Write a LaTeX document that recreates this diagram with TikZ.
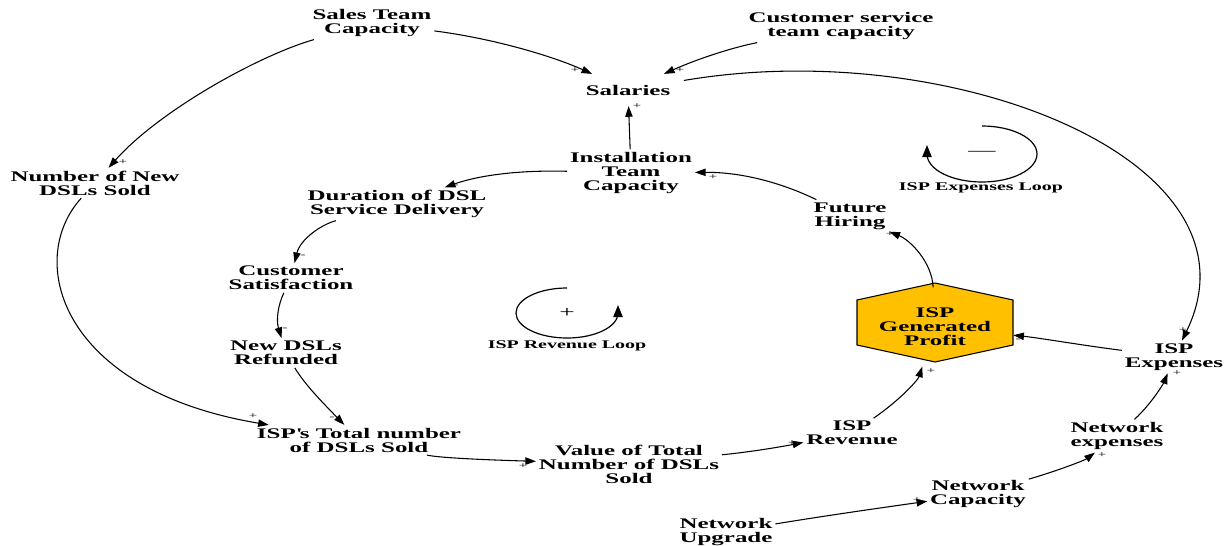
\documentclass[tikz,border=0pt]{standalone}
\usepackage{fontspec}
\setmainfont{Liberation Serif}[FakeStretch=1.7]
\usetikzlibrary{arrows.meta}

\definecolor{profitfill}{RGB}{255,192,0}

\tikzset{
  var/.style={font=\fontsize{11}{10.5}\selectfont\bfseries, align=center, inner sep=2pt},
  looplbl/.style={font=\fontsize{8.8}{9}\selectfont\bfseries, inner sep=1pt},
  pol/.style={font=\fontsize{6.5}{6.5}\selectfont, inner sep=0pt},
  loopsign/.style={font=\fontsize{12}{12}\selectfont, inner sep=0pt},
  link/.style={-{Triangle[length=8pt,width=5.5pt]}, line width=0.8pt},
  loopline/.style={-{Triangle[length=9pt,width=7pt]}, line width=0.9pt},
}

\begin{document}
\begin{tikzpicture}[x=0.75pt,y=0.75pt,yscale=-1,xscale=1]
        \useasboundingbox (0,0) rectangle (1228,546);

        %Shape: Hexagon
        \draw [fill=profitfill, line width=0.8pt] (935,283) -- (1013,300) -- (1013,345) -- (935,362) -- (857,345) -- (857,300) -- cycle ;

        % Text Node
        \node [var] (sales) at (372,23) {Sales Team\\Capacity};
        % Text Node
        \node [var] (custsvc) at (841,26) {Customer service\\team capacity};
        % Text Node
        \node [var, inner xsep=10pt, inner ysep=8pt] (salaries) at (628,90) {Salaries};
        % Text Node
        \node [var] (install) at (631,173) {Installation\\Team\\Capacity};
        % Text Node
        \node [var] (newdsl) at (95,183) {Number of New\\DSLs Sold};
        % Text Node
        \node [var] (duration) at (397,204) {Duration of DSL\\Service Delivery};
        % Text Node
        \node [var] (custsat) at (291,278) {Customer\\Satisfaction};
        % Text Node
        \node [var] (refund) at (286,353) {New DSLs\\Refunded};
        % Text Node
        \node [var] (isptotal) at (359,440) {ISP\textquotesingle s Total number\\of DSLs Sold};
        % Text Node
        \node [var] (value) at (629,464) {Value of Total\\Number of DSLs\\Sold};
        % Text Node
        \node [var] (isprev) at (852,433) {ISP\\Revenue};
        % Text Node
        \node [var, minimum width=117pt, minimum height=59pt, inner sep=0pt] (profit) at (935,327) {ISP\\Generated\\Profit};
        % Text Node
        \node [var] (future) at (850,216) {Future\\Hiring};
        % Text Node
        \node [var] (ispexp) at (1174,357) {ISP\\Expenses};
        % Text Node
        \node [var] (netexp) at (1117,436) {Network\\expenses};
        % Text Node
        \node [var] (netcap) at (978,494) {Network\\Capacity};
        % Text Node
        \node [var] (netupg) at (726,532) {Network\\Upgrade};

        %Curve Lines
        \draw [link] (sales) .. controls (490,38) and (550,55) .. (salaries);
        \draw [link] (custsvc) .. controls (730,48) and (695,60) .. (salaries);
        \draw [link] (salaries) .. controls (950,35) and (1270,160) .. (ispexp);
        \draw [link] (install) -- (salaries);
        \draw [link] (sales) .. controls (260,55) and (160,110) .. (newdsl);
        \draw [link] (newdsl) .. controls (25,260) and (60,390) .. (isptotal);
        \draw [link] (install) .. controls (520,170) and (480,175) .. (duration);
        \draw [link] (duration) .. controls (320,225) and (300,240) .. (custsat);
        \draw [link] (custsat) .. controls (278,305) and (276,320) .. (refund);
        \draw [link] (refund) .. controls (305,385) and (325,405) .. (isptotal);
        \draw [link] (isptotal) .. controls (440,458) and (490,460) .. (value);
        \draw [link] (value) .. controls (750,452) and (780,447) .. (isprev);
        \draw [link] (isprev) .. controls (900,400) and (918,380) .. (profit);
        \draw [link] (profit) .. controls (932,262) and (910,240) .. (future);
        \draw [link] (future) .. controls (780,182) and (740,172) .. (install);
        \draw [link] (ispexp) .. controls (1080,345) and (1040,338) .. (profit);
        \draw [link] (netexp) .. controls (1155,400) and (1165,380) .. (ispexp);
        \draw [link] (netcap) .. controls (1060,470) and (1085,460) .. (netexp);
        \draw [link] (netupg) .. controls (830,515) and (880,508) .. (netcap);

        % Polarity
        \node [pol] (p1) at (575,70) {+};
        \node [pol] (p2) at (680,70) {+};
        \node [pol] (p3) at (1183,330) {+};
        \node [pol] (p4) at (637,106) {+};
        \node [pol] (p5) at (123,162) {+};
        \node [pol] (p6) at (253,416) {+};
        \node [pol] (p7) at (456,186) {-};
        \node [pol] (p8) at (303,256) {-};
        \node [pol] (p9) at (285,329) {-};
        \node [pol] (p10) at (332,418) {-};
        \node [pol] (p11) at (523,466) {+};
        \node [pol] (p12) at (792,443) {+};
        \node [pol] (p13) at (931,371) {+};
        \node [pol] (p14) at (890,234) {+};
        \node [pol] (p15) at (713,177) {+};
        \node [pol] (p16) at (1018,340) {-};
        \node [pol] (p17) at (1177,373) {+};
        \node [pol] (p18) at (1102,455) {+};
        \node [pol] (p19) at (917,500) {+};

        %Loops
        \draw [loopline] (567,288) arc [start angle=-90, end angle=-360, x radius=51, y radius=25] -- ++(0,-8);
        \node [loopsign] (revsign) at (567,313) {+};
        \node [looplbl] (revloop) at (567,346) {ISP Revenue Loop};
        \draw [loopline] (982,126) arc [start angle=-90, end angle=180, x radius=55, y radius=28] -- ++(0,-9);
        \node [loopsign] (expsign) at (982,153) {---};
        \node [looplbl] (exploop) at (981,188) {ISP Expenses Loop};

\end{tikzpicture}
\end{document}
